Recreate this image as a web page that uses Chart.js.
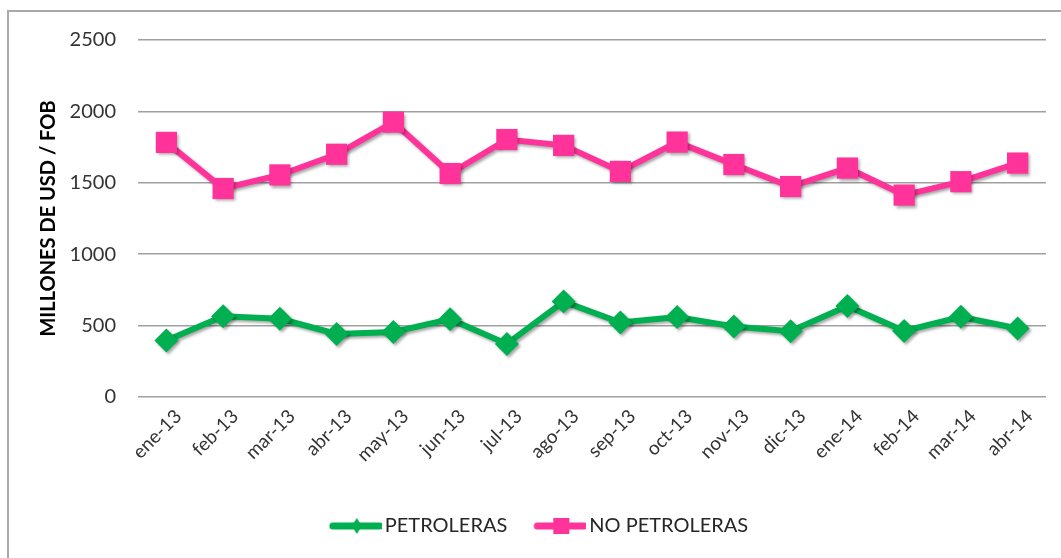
<!DOCTYPE html>
<html>
<head>
<meta charset="utf-8">
<script src="https://cdn.jsdelivr.net/npm/chart.js@4"></script>
<style>
  html, body { margin: 0; padding: 0; background: #fff; overflow: hidden; }
  #frame {
    position: absolute; left: 7px; top: 10px; width: 1100px; height: 600px;
    border-left: 2px solid #a9a9a9; border-top: 2px solid #a9a9a9;
  }
  #wrap { position: absolute; left: 0; top: 0; width: 1061px; height: 558px; }
</style>
</head>
<body>
<div id="frame"></div>
<div id="wrap"><canvas id="chart"></canvas></div>
<script>
var months = ["ene-13", "feb-13", "mar-13", "abr-13", "may-13", "jun-13", "jul-13", "ago-13",
              "sep-13", "oct-13", "nov-13", "dic-13", "ene-14", "feb-14", "mar-14", "abr-14"];
var petroleras = [395, 565, 548, 442, 455, 545, 372, 668, 522, 560, 494, 460, 637, 462, 562, 480];
var noPetroleras = [1783, 1460, 1555, 1700, 1925, 1565, 1803, 1762, 1580, 1785, 1628, 1474, 1603, 1414, 1508, 1638];
var yTicks = [0, 500, 1000, 1500, 2000, 2500];

var green = "#00b050";
var pink = "#ff3399";
var font = "Lato";

// legend sample: line with marker in the middle
function legendIcon(color, shape) {
    var c = document.createElement("canvas");
    c.width = 58; c.height = 22;
    var g = c.getContext("2d");
    g.strokeStyle = color;
    g.lineWidth = 7;
    g.lineCap = "round";
    g.beginPath();
    g.moveTo(9, 11);
    g.lineTo(56, 11);
    g.stroke();
    g.fillStyle = color;
    var cx = 33;
    if (shape == "rect") {
        g.fillRect(cx - 8, 3, 16, 16);
    } else {
        g.beginPath();
        g.moveTo(cx, 3); g.lineTo(cx + 5, 11); g.lineTo(cx, 19); g.lineTo(cx - 5, 11);
        g.closePath(); g.fill();
    }
    return c;
}

var shadowPlugin = {
    id: "shadow",
    beforeDatasetDraw: function(chart) {
        var ctx = chart.ctx;
        ctx.save();
        ctx.shadowColor = "rgba(0,0,0,0.35)";
        ctx.shadowBlur = 3;
        ctx.shadowOffsetX = 2;
        ctx.shadowOffsetY = 2;
    },
    afterDatasetDraw: function(chart) {
        chart.ctx.restore();
    }
};

var ctx = document.getElementById("chart").getContext("2d");
var chart = new Chart(ctx, {
    type: "line",
    data: {
        labels: months,
        datasets: [{
            label: "PETROLERAS",
            data: petroleras,
            borderColor: green,
            backgroundColor: green,
            borderWidth: 6,
            tension: 0,
            pointStyle: "rectRot",
            pointRadius: 12,
            pointBorderWidth: 0,
            pointBackgroundColor: green,
            legendIcon: legendIcon(green, "diamond")
        }, {
            label: "NO PETROLERAS",
            data: noPetroleras,
            borderColor: pink,
            backgroundColor: pink,
            borderWidth: 6,
            tension: 0,
            pointStyle: "rect",
            pointRadius: 15,
            pointBorderWidth: 0,
            pointBackgroundColor: pink,
            legendIcon: legendIcon(pink, "rect")
        }]
    },
    options: {
        responsive: true,
        maintainAspectRatio: false,
        animation: false,
        layout: {
            padding: { left: 32, right: 14, top: 40, bottom: 12 }
        },
        plugins: {
            legend: {
                position: "bottom",
                labels: {
                    usePointStyle: true,
                    pointStyleWidth: 44,
                    padding: 28,
                    color: "#262626",
                    font: { family: font, size: 20 },
                    generateLabels: function(ch) {
                        return ch.data.datasets.map(function(ds, i) {
                            return {
                                text: ds.label,
                                pointStyle: ds.legendIcon,
                                fillStyle: ds.borderColor,
                                strokeStyle: ds.borderColor,
                                lineWidth: 0,
                                fontColor: "#262626",
                                datasetIndex: i,
                                hidden: false
                            };
                        });
                    }
                }
            },
            tooltip: { enabled: false }
        },
        scales: {
            x: {
                offset: true,
                grid: { display: false, drawTicks: false },
                border: { display: false },
                ticks: {
                    color: "#333333",
                    maxRotation: 45,
                    minRotation: 45,
                    padding: 8,
                    labelOffset: 12,
                    autoSkip: false,
                    font: { family: font, size: 19 }
                },
                afterFit: function(scale) { scale.height = 91; }
            },
            y: {
                min: 0,
                max: 2500,
                afterBuildTicks: function(scale) {
                    scale.ticks = yTicks.map(function(v) { return { value: v }; });
                },
                grid: { color: "#a0a0a0", lineWidth: 1.5, drawTicks: false },
                border: { display: false },
                ticks: {
                    color: "#333333",
                    padding: 22,
                    font: { family: font, size: 20 },
                    callback: function(v) { return String(v); }
                },
                title: {
                    display: true,
                    text: "MILLONES DE USD / FOB",
                    color: "#000000",
                    padding: { top: 5, bottom: 0 },
                    font: { family: font, size: 20, weight: "bold" }
                },
                afterFit: function(scale) { scale.width = 106; }
            }
        }
    },
    plugins: [shadowPlugin]
});
</script>
</body>
</html>
